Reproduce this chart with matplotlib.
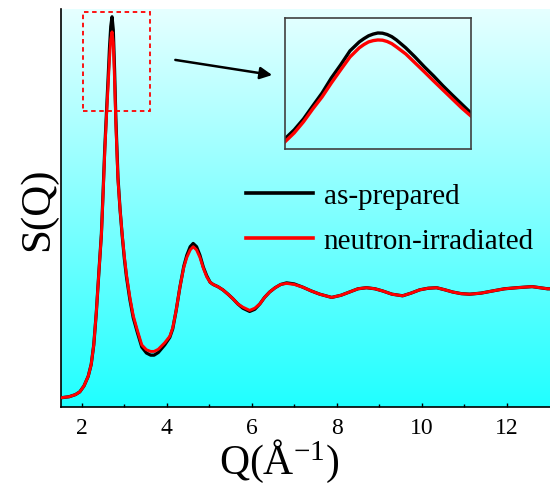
import numpy as np
import matplotlib
matplotlib.use('Agg')
import matplotlib.pyplot as plt
from matplotlib.colors import LinearSegmentedColormap
from matplotlib.patches import Rectangle

plt.rcParams['font.family'] = 'Liberation Serif'
plt.rcParams['mathtext.fontset'] = 'custom'
plt.rcParams['mathtext.rm'] = 'Liberation Serif'
plt.rcParams['mathtext.it'] = 'Liberation Serif:italic'

# ── Data ──
q = [1.50, 1.70, 1.85, 1.95, 2.05, 2.15, 2.22, 2.28, 2.34, 2.40, 2.46, 2.50,
     2.54, 2.58, 2.62, 2.65, 2.68, 2.71, 2.74, 2.77, 2.80, 2.85, 2.90, 2.95,
     3.00, 3.05, 3.13, 3.21, 3.31, 3.41, 3.52, 3.62, 3.70, 3.80, 3.95, 4.07, 4.14,
     4.22, 4.31, 4.40, 4.47, 4.55, 4.62, 4.70, 4.78, 4.86, 4.94, 5.02, 5.09,
     5.20, 5.32, 5.44, 5.55, 5.67, 5.79, 5.95, 6.07, 6.19, 6.30, 6.42, 6.55,
     6.68, 6.82, 7.00, 7.20, 7.40, 7.60, 7.88, 8.10, 8.30, 8.50, 8.70, 8.90,
     9.08, 9.30, 9.55, 9.75, 9.95, 10.15, 10.35, 10.55, 10.73, 10.93, 11.13,
     11.40, 11.67, 11.95, 12.24, 12.60, 12.96, 13.05]

s_irradiated = [0.01, 0.02, 0.04, 0.065, 0.12, 0.21, 0.32, 0.50, 0.80, 1.17, 1.52, 1.90,
                2.30, 2.62, 2.92, 3.15, 3.33, 3.40, 3.30, 2.95, 2.55, 2.03, 1.75, 1.52,
                1.32, 1.15, 0.94, 0.77, 0.63, 0.50, 0.455, 0.44, 0.44, 0.46, 0.52, 0.58, 0.66,
                0.82, 1.04, 1.22, 1.31, 1.38, 1.41, 1.38, 1.31, 1.21, 1.13, 1.08, 1.06,
                1.04, 1.01, 0.97, 0.93, 0.88, 0.85, 0.82, 0.84, 0.88, 0.94, 0.99, 1.03,
                1.06, 1.07, 1.06, 1.035, 1.00, 0.97, 0.94, 0.96, 0.99, 1.02, 1.03, 1.02,
                1.00, 0.97, 0.955, 0.98, 1.01, 1.025, 1.03, 1.01, 0.99, 0.975, 0.97,
                0.98, 1.00, 1.02, 1.03, 1.04, 1.02, 1.02]

s_prepared = [0.01, 0.02, 0.04, 0.065, 0.12, 0.21, 0.32, 0.50, 0.80, 1.17, 1.53, 1.92,
              2.33, 2.66, 2.99, 3.25, 3.45, 3.54, 3.42, 3.05, 2.60, 2.05, 1.75, 1.51,
              1.30, 1.13, 0.92, 0.75, 0.61, 0.48, 0.425, 0.405, 0.405, 0.43, 0.50, 0.57, 0.65,
              0.82, 1.04, 1.23, 1.33, 1.41, 1.44, 1.41, 1.33, 1.22, 1.14, 1.08, 1.06,
              1.04, 1.01, 0.97, 0.93, 0.88, 0.84, 0.81, 0.83, 0.88, 0.94, 0.99, 1.03,
              1.06, 1.075, 1.065, 1.035, 1.00, 0.97, 0.94, 0.96, 0.99, 1.02, 1.03, 1.02,
              1.00, 0.97, 0.955, 0.98, 1.01, 1.025, 1.03, 1.01, 0.99, 0.975, 0.97,
              0.98, 1.00, 1.02, 1.03, 1.04, 1.02, 1.02]

# inset: close-up of the first peak
inset_q = [2.600, 2.610, 2.620, 2.630, 2.640, 2.650, 2.660, 2.670, 2.680, 2.685, 2.690,
           2.695, 2.700, 2.705, 2.710, 2.715, 2.720, 2.730, 2.740, 2.750, 2.760,
           2.770, 2.780, 2.790, 2.800]
inset_prepared = [3.046, 3.087, 3.137, 3.197, 3.256, 3.325, 3.385, 3.449, 3.490, 3.505, 3.518,
                  3.526, 3.531, 3.530, 3.524, 3.514, 3.499, 3.463, 3.421, 3.376, 3.334,
                  3.289, 3.247, 3.206, 3.165]
inset_irradiated = [3.032, 3.073, 3.124, 3.183, 3.238, 3.302, 3.362, 3.421, 3.463, 3.478, 3.490,
                    3.496, 3.499, 3.498, 3.492, 3.482, 3.467, 3.435, 3.394, 3.353, 3.311,
                    3.270, 3.229, 3.188, 3.151]

x_ticks = [2, 4, 6, 8, 10, 12]
labels = ['as-prepared', 'neutron-irradiated']

xmin, xmax = 1.51, 13.02
ymin, ymax = -0.074, 3.61

# ── Figure ──
fig = plt.figure(figsize=(5.5, 4.85), dpi=100)
ax = fig.add_axes([0.111, 0.159, 0.889, 0.820])

# cyan gradient background
cmap = LinearSegmentedColormap.from_list('cy', ['#20ffff', '#e6ffff'])
grad = np.linspace(0, 1, 256).reshape(-1, 1)
ax.imshow(grad, extent=(xmin, xmax, ymin, ymax), origin='lower', aspect='auto',
          cmap=cmap, zorder=0)

ax.plot(q, s_prepared, color='black', lw=2.3, label=labels[0], zorder=2)
ax.plot(q, s_irradiated, color='red', lw=2.1, label=labels[1], zorder=3)

ax.set_xlim(xmin, xmax)
ax.set_ylim(ymin, ymax)
ax.set_xticks(x_ticks)
ax.set_xticks(np.arange(3, 13, 2), minor=True)
ax.set_yticks([])
ax.tick_params(axis='x', which='both', direction='in', labelsize=17, pad=7)
ax.tick_params(axis='x', which='major', length=3, width=1)
ax.tick_params(axis='x', which='minor', length=2, width=1)
for side in ['top', 'right']:
    ax.spines[side].set_visible(False)
for side in ['left', 'bottom']:
    ax.spines[side].set_linewidth(1.2)

ax.set_xlabel(r'Q(Å$^{\mathrm{-1}}$)', fontsize=30)
ax.xaxis.set_label_coords(0.446, -0.075)
ax.set_ylabel('S(Q)', fontsize=31, labelpad=3)

leg = ax.legend(loc='upper left', bbox_to_anchor=(0.349, 0.60), frameon=False,
                fontsize=21, handlelength=2.3, handletextpad=0.35, labelspacing=0.62,
                borderpad=0)
for line in leg.get_lines():
    line.set_linewidth(2.6)

# dashed box around first peak + arrow to the inset
ax.add_patch(Rectangle((2.03, 2.67), 1.58, 0.91, fill=False, edgecolor='red',
                       linestyle=(0, (2.5, 2)), lw=1.3, zorder=4))
ax.annotate('', xy=(6.48, 3.0), xytext=(4.20, 3.14),
            arrowprops=dict(arrowstyle='-|>', color='black', lw=1.8,
                            mutation_scale=18, shrinkA=0, shrinkB=0))

# inset
axin = fig.add_axes([0.518, 0.691, 0.338, 0.270])
axin.patch.set_alpha(0)
axin.plot(inset_q, inset_prepared, color='black', lw=2.4)
axin.plot(inset_q, inset_irradiated, color='red', lw=2.4)
axin.set_xlim(2.60, 2.80)
axin.set_ylim(3.0, 3.6)
axin.set_xticks([])
axin.set_yticks([])
for sp in axin.spines.values():
    sp.set_color('#404040')
    sp.set_linewidth(1.2)

fig.savefig('out.png', dpi=100)
